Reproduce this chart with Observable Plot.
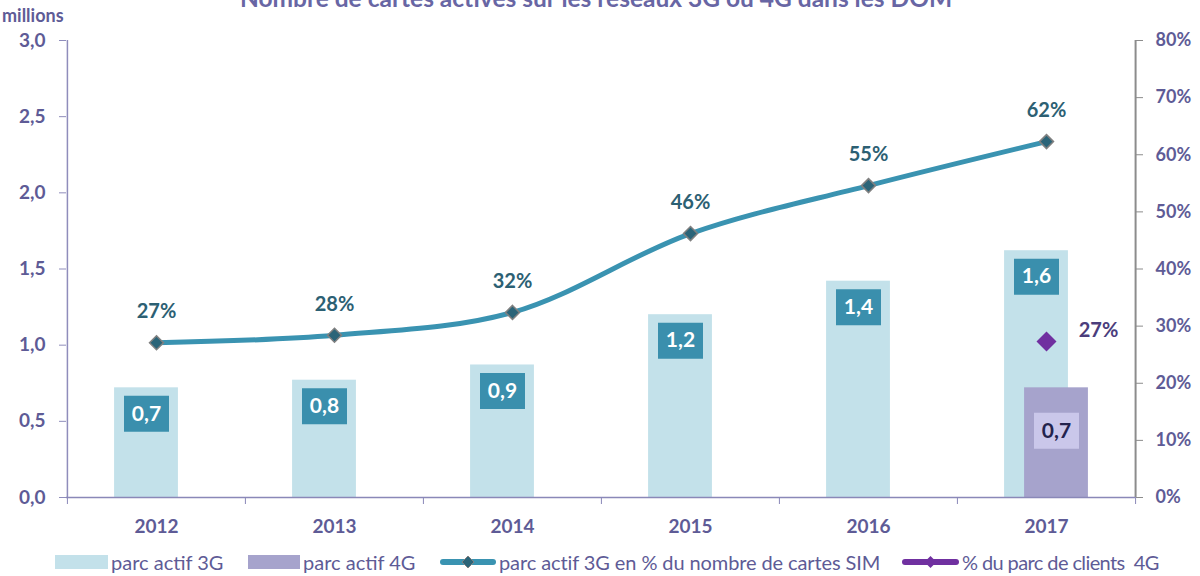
<!DOCTYPE html>
<html><head><meta charset="utf-8">
<script src="https://cdn.jsdelivr.net/npm/d3@7"></script>
<script src="https://cdn.jsdelivr.net/npm/@observablehq/plot@0.6"></script>
<style>
body{margin:0;background:#fff;font-family:Lato,"DejaVu Sans",sans-serif;}
#wrap{position:relative;width:1200px;height:576px;overflow:hidden;}
#title{position:absolute;left:0;width:1192px;top:-14px;text-align:center;font-size:24.5px;font-weight:bold;color:#6866a4;line-height:24px;}
#unit{position:absolute;left:2px;top:4px;font-size:18px;font-weight:bold;color:#5e5b96;}
#chart{position:absolute;left:0;top:0;}
.leg{position:absolute;top:549px;height:26px;font-size:20px;color:#5e5b96;display:flex;align-items:center;white-space:pre;}
.leg svg{margin-right:3px;}
</style></head>
<body><div id="wrap">
<div id="chart"></div>
<div id="title">Nombre de cartes actives sur les réseaux 3G ou 4G dans les DOM</div>
<div id="unit">millions</div>
<div id="legend"></div>
</div>
<script>
const years = ["2012","2013","2014","2015","2016","2017"];
const parc3G = [0.72,0.77,0.87,1.20,1.42,1.62];
const parc3GLabels = ["0,7","0,8","0,9","1,2","1,4","1,6"];
const pct3G = [27.1,28.4,32.4,46.2,54.6,62.3];
const pct3GLabels = ["27%","28%","32%","46%","55%","62%"];
const years4G = ["2017"];
const parc4G = [0.72];
const parc4GLabels = ["0,7"];
const pct4G = [27.3];
const pct4GLabels = ["27%"];
const leftTicks = [0,0.5,1,1.5,2,2.5,3];
const leftTickLabels = ["0,0","0,5","1,0","1,5","2,0","2,5","3,0"];
const rightTicks = [0,10,20,30,40,50,60,70,80];
const rightTickLabels = ["0%","10%","20%","30%","40%","50%","60%","70%","80%"];
const legendItems = ["parc actif 3G","parc actif 4G","parc actif 3G en % du nombre de cartes SIM","% du parc de clients  4G"];

const PMAX = 80, YMAX = 3;
const toY = p => p * YMAX / PMAX;

const d3G = years.map((y,i)=>({year:y, v:parc3G[i], label:parc3GLabels[i]}));
const d4G = years4G.map((y,i)=>({year:y, v:parc4G[i], label:parc4GLabels[i]}));
const dP3 = years.map((y,i)=>({year:y, p:pct3G[i], label:pct3GLabels[i]}));
const dP4 = years4G.map((y,i)=>({year:y, p:pct4G[i], label:pct4GLabels[i]}));

const W=1200,H=540,ML=66,MR=65,MT=40,MB=43;
const half = (W-ML-MR)/years.length/2;
const barW = 64, inset = half - barW/2, off = 10;

const box = (w,h)=>({draw(ctx){ctx.moveTo(-w/2,-h/2);ctx.lineTo(w/2,-h/2);ctx.lineTo(w/2,h/2);ctx.lineTo(-w/2,h/2);ctx.closePath();}});

const axisCol = "#5e5b96";
const chart = Plot.plot({
  width:W, height:H, marginTop:MT, marginRight:MR, marginBottom:MB, marginLeft:ML,
  style:{fontFamily:"Lato, sans-serif", background:"transparent", overflow:"visible"},
  x:{domain:years, padding:0, axis:null},
  y:{domain:[0,YMAX], axis:null},
  marks:[
    Plot.barY(d3G,{x:"year",y:"v",fill:"#c3e1ea",insetLeft:inset,insetRight:inset,dx:-off}),
    Plot.barY(d4G,{x:"year",y:"v",fill:"#a6a3cc",insetLeft:inset,insetRight:inset,dx:off}),
    Plot.ruleY([0],{stroke:"#8a88b8",strokeWidth:1.3}),
    Plot.ruleX([years[0]],{x:d=>d,dx:-half,stroke:"#8f8dbb",strokeWidth:1.5}),
    Plot.ruleX([years[years.length-1]],{x:d=>d,dx:half,stroke:"#8c8c8c",strokeWidth:2}),
    Plot.axisX(years,{tickSize:7,dx:-half,tickFormat:()=>"",label:null,stroke:"#8a88b8"}),
    Plot.axisX([years[years.length-1]],{tickSize:7,dx:half,tickFormat:()=>"",label:null,stroke:"#8a88b8"}),
    Plot.axisX(years,{tickSize:0,tickPadding:22,label:null,fontSize:19,fontWeight:"bold",fill:axisCol}),
    Plot.axisY(leftTicks,{anchor:"left",tickSize:7,tickPadding:14,label:null,fontSize:19,fontWeight:"bold",fill:axisCol,stroke:"#8f8dbb",tickFormat:(d)=>leftTickLabels[leftTicks.indexOf(d)]}),
    Plot.axisY(rightTicks.map(toY),{anchor:"right",tickSize:7,tickPadding:13,label:null,fontSize:18,fontWeight:"bold",fill:axisCol,stroke:"#8c8c8c",tickFormat:(d)=>rightTickLabels[rightTicks.map(toY).indexOf(d)]}),
    Plot.line(dP3,{x:"year",y:d=>toY(d.p),stroke:"#3a93b1",strokeWidth:5,curve:"catmull-rom"}),
    Plot.dot(dP3,{x:"year",y:d=>toY(d.p),symbol:"diamond2",r:6.3,fill:"#2b6478",stroke:"#808080",strokeWidth:1.5}),
    Plot.text(dP3,{x:"year",y:d=>toY(d.p),text:"label",dy:-31,fill:"#2c6073",fontSize:20,fontWeight:"bold"}),
    Plot.dot(dP4,{x:"year",y:d=>toY(d.p),symbol:"diamond2",r:9,fill:"#7030a0"}),
    Plot.text(dP4,{x:"year",y:d=>toY(d.p),text:"label",dx:52,dy:-11,fill:"#4b3d7c",fontSize:20,fontWeight:"bold"}),
    Plot.dot(d3G,{x:"year",y:"v",dx:-off,dy:26,symbol:box(45,36),fill:"#3a8fad",r:5}),
    Plot.text(d3G,{x:"year",y:"v",dx:-off,dy:26,text:"label",fill:"white",fontSize:21,fontWeight:"bold"}),
    Plot.dot(d4G,{x:"year",y:"v",dx:off,dy:43,symbol:box(45,36),fill:"#cac7ea",r:5}),
    Plot.text(d4G,{x:"year",y:"v",dx:off,dy:43,text:"label",fill:"#23234d",fontSize:21,fontWeight:"bold"})
  ]
});
document.getElementById("chart").appendChild(chart);

const legPos = [55,248,440,902];
const legSpacing = ["0px","0px","-0.1px","-0.6px"];
const swatches = [
  '<svg width="53" height="14"><rect x="0" y="0" width="53" height="14" fill="#c3e1ea"/></svg>',
  '<svg width="52" height="14"><rect x="0" y="0" width="52" height="14" fill="#a6a3cc"/></svg>',
  '<svg width="56" height="14"><line x1="3" x2="53" y1="7" y2="7" stroke="#3a93b1" stroke-width="6" stroke-linecap="round"/><path d="M28,1L34,7L28,13L22,7Z" fill="#2b6478" stroke="#808080" stroke-width="1"/></svg>',
  '<svg width="57" height="14"><line x1="3" x2="54" y1="7" y2="7" stroke="#7030a0" stroke-width="6" stroke-linecap="round"/><path d="M28.5,1L34.5,7L28.5,13L22.5,7Z" fill="#7030a0"/></svg>'
];
const leg = document.getElementById("legend");
legendItems.forEach((t,i)=>{
  const d = document.createElement("div");
  d.className="leg"; d.style.left=legPos[i]+"px";
  d.innerHTML = swatches[i] + '<span style="letter-spacing:'+legSpacing[i]+'">'+t+'</span>';
  leg.appendChild(d);
});
</script>
</body></html>
